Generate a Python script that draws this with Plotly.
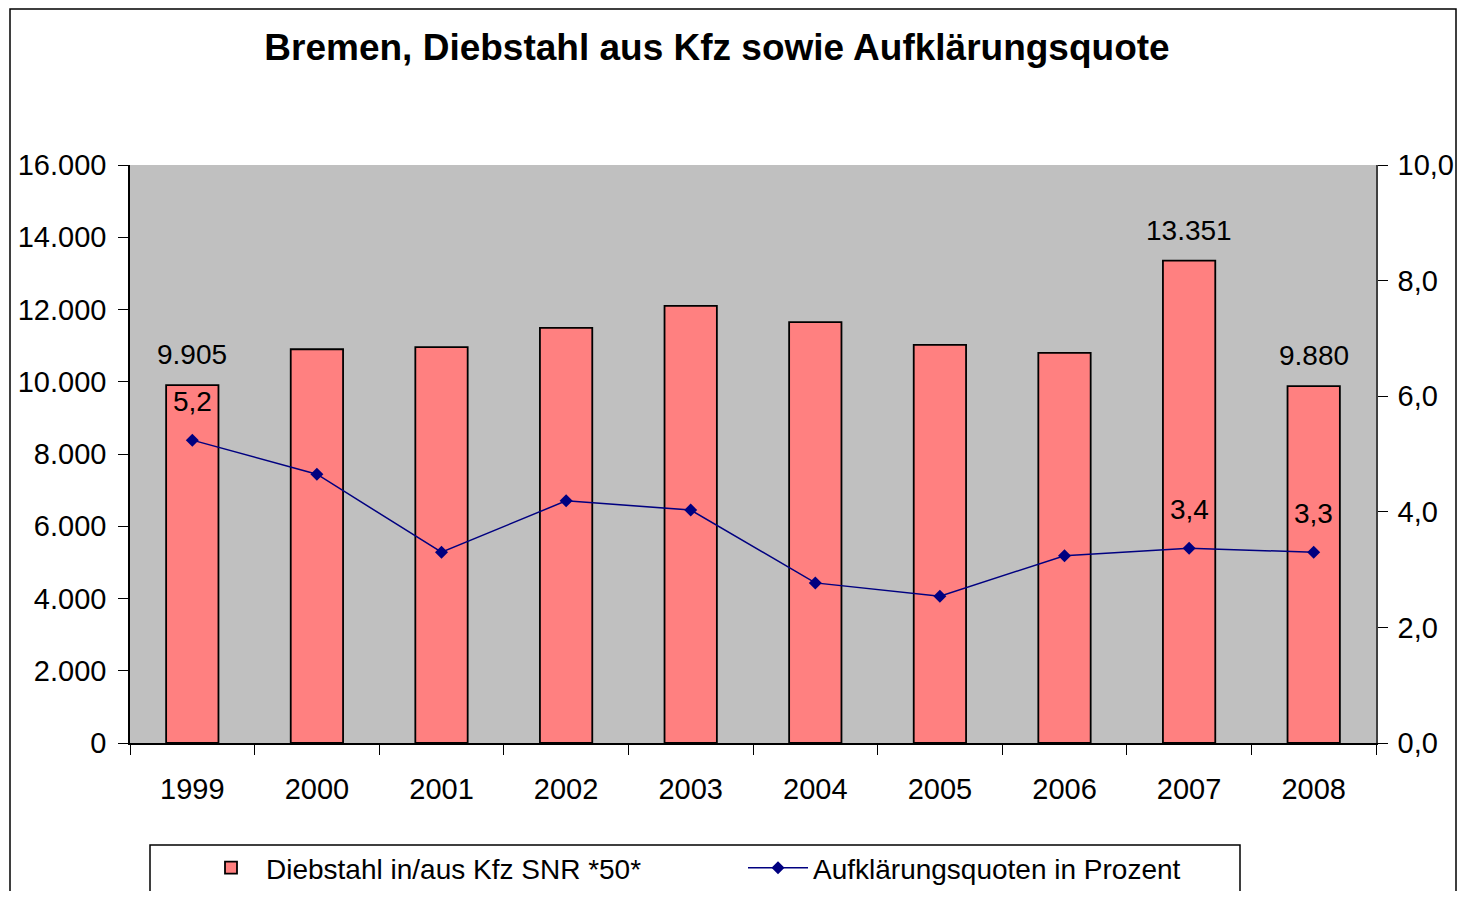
import plotly.graph_objects as go

years = ["1999", "2000", "2001", "2002", "2003", "2004", "2005", "2006", "2007", "2008"]
diebstahl = [9905, 10900, 10960, 11490, 12100, 11650, 11020, 10800, 13351, 9880]
quote = [5.24, 4.65, 3.30, 4.19, 4.03, 2.77, 2.54, 3.24, 3.37, 3.30]
label_idx = [0, 8, 9]
left_ticks = [0, 2000, 4000, 6000, 8000, 10000, 12000, 14000, 16000]
right_ticks = [0, 2, 4, 6, 8, 10]

FONT = "Liberation Sans, Arial, sans-serif"
# page body has an 8px margin; figure sized so the page does not overflow
OFF = 8
W, H = 1465 - 2 * OFF, 899 - 2 * OFF
PW, PH = 1246, 578


def px_x(x):
    return (x - 130) / PW


def px_y(y):
    return (743 - y) / PH


fig = go.Figure()
fig.add_trace(go.Bar(
    x=years, y=diebstahl, name="Diebstahl in/aus Kfz SNR *50*",
    marker=dict(color="#FF8080", line=dict(color="black", width=1.8)),
    yaxis="y",
))
fig.add_trace(go.Scatter(
    x=years, y=quote, name="Aufklärungsquoten in Prozent", yaxis="y2",
    mode="lines+markers",
    line=dict(color="#000080", width=1.5),
    marker=dict(symbol="diamond", size=10, color="#000080"),
))

annotations = []
for i in label_idx:
    annotations.append(dict(
        x=i, y=diebstahl[i], xref="x", yref="y",
        text=f"{diebstahl[i]:,}".replace(",", "."),
        showarrow=False, yanchor="bottom", yshift=13,
        font=dict(family=FONT, size=28, color="black"),
    ))
    annotations.append(dict(
        x=i, y=quote[i], xref="x", yref="y2",
        text=f"{quote[i]:.1f}".replace(".", ","),
        showarrow=False, yanchor="bottom", yshift=21,
        font=dict(family=FONT, size=28, color="black"),
    ))

fig.update_layout(
    width=W, height=H,
    margin=dict(l=130 - OFF, r=W - (1376 - OFF), t=165 - OFF, b=H - (743 - OFF),
                autoexpand=False),
    paper_bgcolor="white", plot_bgcolor="#C0C0C0",
    separators=",.",
    font=dict(family=FONT, size=28, color="black"),
    title=dict(text="<b>Bremen, Diebstahl aus Kfz sowie Aufklärungsquote</b>",
               x=(717 - OFF) / W, xref="container", xanchor="center",
               y=1 - (47 - OFF) / H, yref="container", yanchor="middle",
               font=dict(family=FONT, size=37, color="black")),
    bargap=0.58,
    xaxis=dict(type="category", range=[-0.5, 9.5], showgrid=False, ticks="outside",
               tickson="boundaries", ticklen=10, tickcolor="black", showline=True,
               linecolor="black", linewidth=1.5, tickfont=dict(size=29), tickangle=0,
               ticklabelstandoff=19, automargin=False),
    yaxis=dict(range=[0, 16000], tickvals=left_ticks, tickformat=",d", showgrid=False,
               ticks="outside", ticklen=10, tickcolor="black", showline=True,
               linecolor="black", linewidth=1.5, tickfont=dict(size=29), zeroline=False,
               ticklabelstandoff=6, automargin=False),
    yaxis2=dict(range=[0, 10], tickvals=right_ticks, tickformat=".1f", overlaying="y",
                side="right", showgrid=False, ticks="outside", ticklen=10, tickcolor="black",
                showline=True, linecolor="#404040", linewidth=1.5, tickfont=dict(size=29),
                zeroline=False, ticklabelstandoff=4, automargin=False),
    legend=dict(orientation="h", x=px_x(196), xanchor="left", y=px_y(843), yanchor="top",
                borderwidth=0, bgcolor="rgba(0,0,0,0)",
                entrywidth=472, font=dict(size=28), traceorder="normal",
                itemwidth=60),
    showlegend=True,
    annotations=annotations,
    shapes=[
        dict(type="rect", xref="paper", yref="paper",
             x0=px_x(10), x1=px_x(1456), y0=px_y(910), y1=px_y(9),
             line=dict(color="black", width=1.5), layer="below"),
        dict(type="rect", xref="paper", yref="paper",
             x0=px_x(150), x1=px_x(1240), y0=px_y(910), y1=px_y(845),
             line=dict(color="black", width=1.5), fillcolor="white", layer="below"),
    ],
)

fig.write_html("out.html")
